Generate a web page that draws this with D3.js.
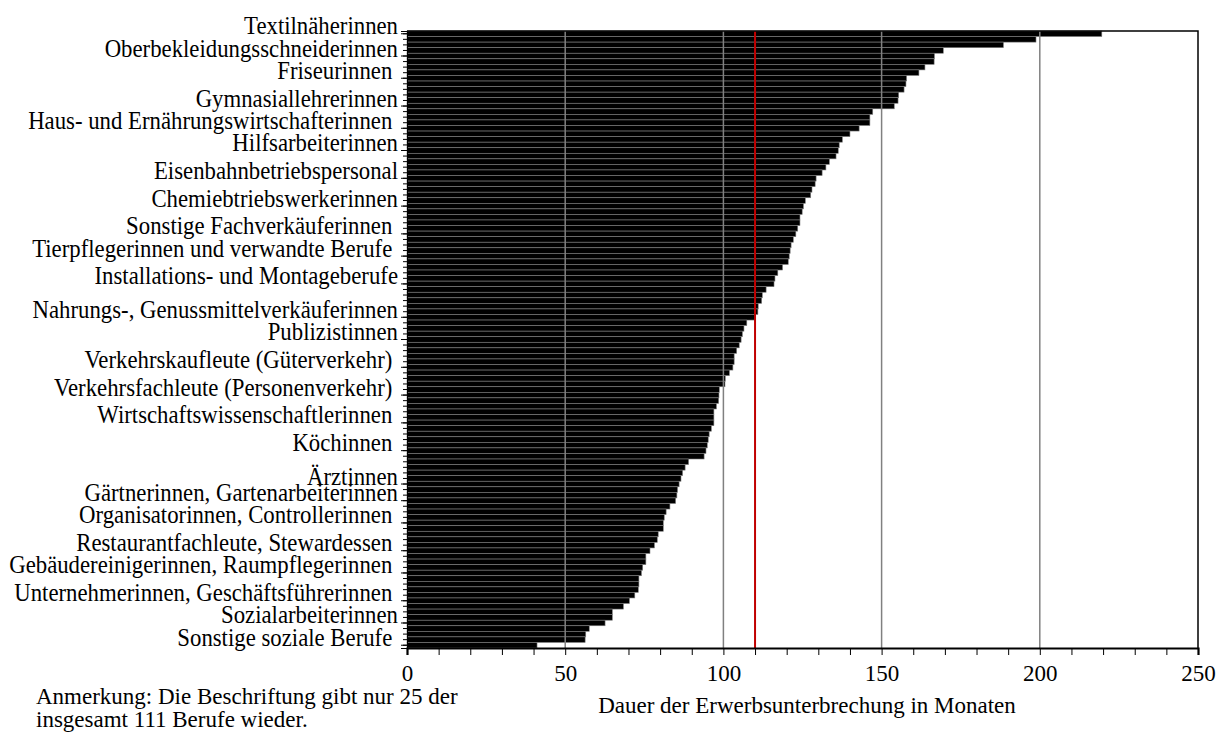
<!DOCTYPE html>
<html>
<head>
<meta charset="utf-8">
<script src="https://cdn.jsdelivr.net/npm/d3@7/dist/d3.min.js"></script>
<style>
  html, body { margin: 0; padding: 0; background: #fff; }
  svg { display: block; }
  text { font-family: "Liberation Serif", "Times New Roman", serif; fill: #000; }
</style>
</head>
<body>
<svg id="chart" width="1228" height="743"></svg>
<script>
// Duration of employment interruption (months), 111 occupations, sorted descending
const values = [
  219.6, 198.8, 188.5, 169.5, 166.7, 166.6, 163.7, 161.8, 157.9, 157.7,
  157.1, 155.4, 155.2, 154.0, 147.2, 146.3, 146.3, 142.9, 140.0, 137.6,
  136.6, 136.3, 135.6, 133.5, 132.4, 131.2, 129.3, 129.0, 128.0, 127.6,
  125.9, 125.3, 124.9, 124.2, 124.2, 123.5, 122.9, 122.1, 121.4, 121.1,
  120.8, 120.5, 118.7, 117.2, 116.3, 116.0, 113.5, 112.3, 112.1, 111.0,
  110.9, 110.1, 107.4, 106.5, 106.0, 105.6, 105.0, 104.2, 103.4, 103.4,
  103.0, 101.9, 100.6, 100.5, 98.7, 98.6, 98.5, 97.8, 97.0, 97.0,
  97.0, 96.2, 95.5, 95.2, 94.9, 94.5, 93.9, 89.0, 87.9, 87.1,
  86.6, 86.0, 85.5, 85.3, 84.9, 83.1, 81.9, 81.3, 81.0, 81.0,
  79.4, 79.1, 78.2, 76.8, 75.5, 75.5, 74.5, 74.1, 73.3, 73.3,
  73.1, 72.0, 70.3, 68.4, 64.9, 64.9, 62.6, 57.6, 56.5, 56.3,
  41.1
];
// Labelled occupations: bar position (1-based) and label text
const labelPositions = [1, 5, 9, 14, 18, 22, 27, 32, 37, 41, 46, 52, 56, 61, 66, 71, 76, 82, 85, 89, 94, 98, 103, 107, 111];
const labelTexts = [
  "Textilnäherinnen",
  "Oberbekleidungsschneiderinnen",
  "Friseurinnen ",
  "Gymnasiallehrerinnen",
  "Haus- und Ernährungswirtschafterinnen ",
  "Hilfsarbeiterinnen",
  "Eisenbahnbetriebspersonal",
  "Chemiebtriebswerkerinnen",
  "Sonstige Fachverkäuferinnen ",
  "Tierpflegerinnen und verwandte Berufe ",
  "Installations- und Montageberufe",
  "Nahrungs-, Genussmittelverkäuferinnen",
  "Publizistinnen",
  "Verkehrskaufleute (Güterverkehr) ",
  "Verkehrsfachleute (Personenverkehr) ",
  "Wirtschaftswissenschaftlerinnen ",
  "Köchinnen ",
  "Ärztinnen",
  "Gärtnerinnen, Gartenarbeiterinnen",
  "Organisatorinnen, Controllerinnen ",
  "Restaurantfachleute, Stewardessen ",
  "Gebäudereinigerinnen, Raumpflegerinnen ",
  "Unternehmerinnen, Geschäftsführerinnen ",
  "Sozialarbeiterinnen",
  "Sonstige soziale Berufe "
];
const xTicks = [0, 10, 20, 30, 40, 50, 60, 70, 80, 90, 100, 110, 120, 130, 140, 150, 160, 170, 180, 190, 200, 210, 220, 230, 240, 250];
const xTickLabels = [0, 50, 100, 150, 200, 250];
const gridValues = [50, 100, 150, 200];
const referenceValue = 110;
const xTitle = "Dauer der Erwerbsunterbrechung in Monaten";
const noteLines = ["Anmerkung: Die Beschriftung gibt nur 25 der", "insgesamt 111 Berufe wieder."];

const L = 407, R = 1198, T = 31, B = 648;

const svg = d3.select("#chart");
const positions = d3.range(1, values.length + 1);
const x = d3.scaleLinear().domain([0, 250]).range([L, R]);
const y = d3.scaleBand().domain(positions).range([T, B]).padding(0);
const yc = p => y(p) + y.bandwidth() / 2;

// bars
svg.append("g").selectAll("rect").data(values).join("rect")
  .attr("x", x(0))
  .attr("y", (d, i) => y(i + 1))
  .attr("width", d => x(d) - x(0))
  .attr("height", y.bandwidth())
  .attr("fill", "#000")
  .attr("stroke", "#808080")
  .attr("stroke-width", 0.6);

// grid lines
svg.append("g").selectAll("line").data(gridValues).join("line")
  .attr("x1", d => x(d)).attr("x2", d => x(d))
  .attr("y1", T).attr("y2", B)
  .attr("stroke", "#808080").attr("stroke-width", 1.5);

// reference line
svg.append("line")
  .attr("x1", x(referenceValue)).attr("x2", x(referenceValue))
  .attr("y1", T).attr("y2", B)
  .attr("stroke", "#c00000").attr("stroke-width", 2);

// frame (top, right)
svg.append("path")
  .attr("d", `M${L},${T}H${R}V${B}`)
  .attr("fill", "none").attr("stroke", "#000").attr("stroke-width", 1.5);

// y axis minor ticks (every bar)
const yMinor = svg.append("g").attr("transform", `translate(${L},0)`)
  .call(d3.axisLeft(y).tickValues(positions).tickSize(4).tickFormat(""));
yMinor.select(".domain").remove();
yMinor.selectAll("line").attr("stroke-width", 1);

// y axis labelled ticks
const yMajor = svg.append("g").attr("transform", `translate(${L},0)`)
  .call(d3.axisLeft(y).tickValues(labelPositions).tickSize(6).tickFormat(""));
yMajor.select(".domain").attr("stroke-width", 1);

// y labels (slightly condensed serif, like the original)
svg.append("g").selectAll("text").data(labelPositions).join("text")
  .attr("transform", p => `translate(398,${yc(p) + 0.5}) scale(0.93,1)`)
  .attr("text-anchor", "end")
  .attr("font-size", 24.5)
  .style("white-space", "pre")
  .text((p, i) => labelTexts[i]);

// x axis
const xAxis = svg.append("g").attr("transform", `translate(0,${B})`)
  .call(d3.axisBottom(x).tickValues(xTicks).tickSize(7).tickPadding(10)
    .tickFormat(d => xTickLabels.includes(d) ? d : ""));
xAxis.select(".domain").attr("stroke-width", 2.2);
xAxis.selectAll("line").attr("stroke-width", 1);
xAxis.selectAll("text")
  .attr("font-size", 23)
  .style("font-family", '"Liberation Serif", serif');

// axis title
svg.append("text")
  .attr("x", 807)
  .attr("y", 713)
  .attr("text-anchor", "middle")
  .attr("font-size", 23)
  .text(xTitle);

// note
svg.append("g").selectAll("text").data(noteLines).join("text")
  .attr("x", 36)
  .attr("y", (d, i) => 704 + i * 23)
  .attr("font-size", 23)
  .text(d => d);
</script>
</body>
</html>
